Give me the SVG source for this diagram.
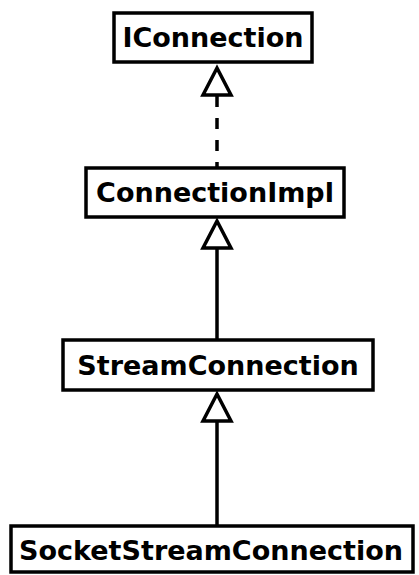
<svg xmlns="http://www.w3.org/2000/svg" width="419" height="575" viewBox="0 0 419 575">
<style>
.box{fill:#fff;stroke:#000;stroke-width:3.5}
.lbl{font-family:"DejaVu Sans",sans-serif;font-weight:bold;font-size:27px;fill:#000;text-anchor:middle}
.edge{stroke:#000;stroke-width:3.5;fill:none}
.dash{stroke-dasharray:11,11}
.head{fill:#fff;stroke:#000;stroke-width:3.5}
</style>
<rect width="419" height="575" fill="#fff"/>
<g id="connectors">
<path class="edge dash" d="M217 96 V168"/>
<polygon class="head" points="217,68 203,95 231,95"/>
<path class="edge" d="M217 249 V340"/>
<polygon class="head" points="217,221 203,248 231,248"/>
<path class="edge" d="M217 422 V526"/>
<polygon class="head" points="217,394 203,421 231,421"/>
</g>
<g id="IConnection">
<rect class="box" x="114" y="13" width="198" height="49"/>
<text class="lbl" x="213" y="47">IConnection</text>
</g>
<g id="ConnectionImpl">
<rect class="box" x="86" y="168" width="258" height="49"/>
<text class="lbl" x="215" y="202">ConnectionImpl</text>
</g>
<g id="StreamConnection">
<rect class="box" x="63" y="340" width="310" height="50"/>
<text class="lbl" x="218" y="375">StreamConnection</text>
</g>
<g id="SocketStreamConnection">
<rect class="box" x="11" y="526" width="402" height="46"/>
<text class="lbl" x="211" y="560">SocketStreamConnection</text>
</g>
</svg>
